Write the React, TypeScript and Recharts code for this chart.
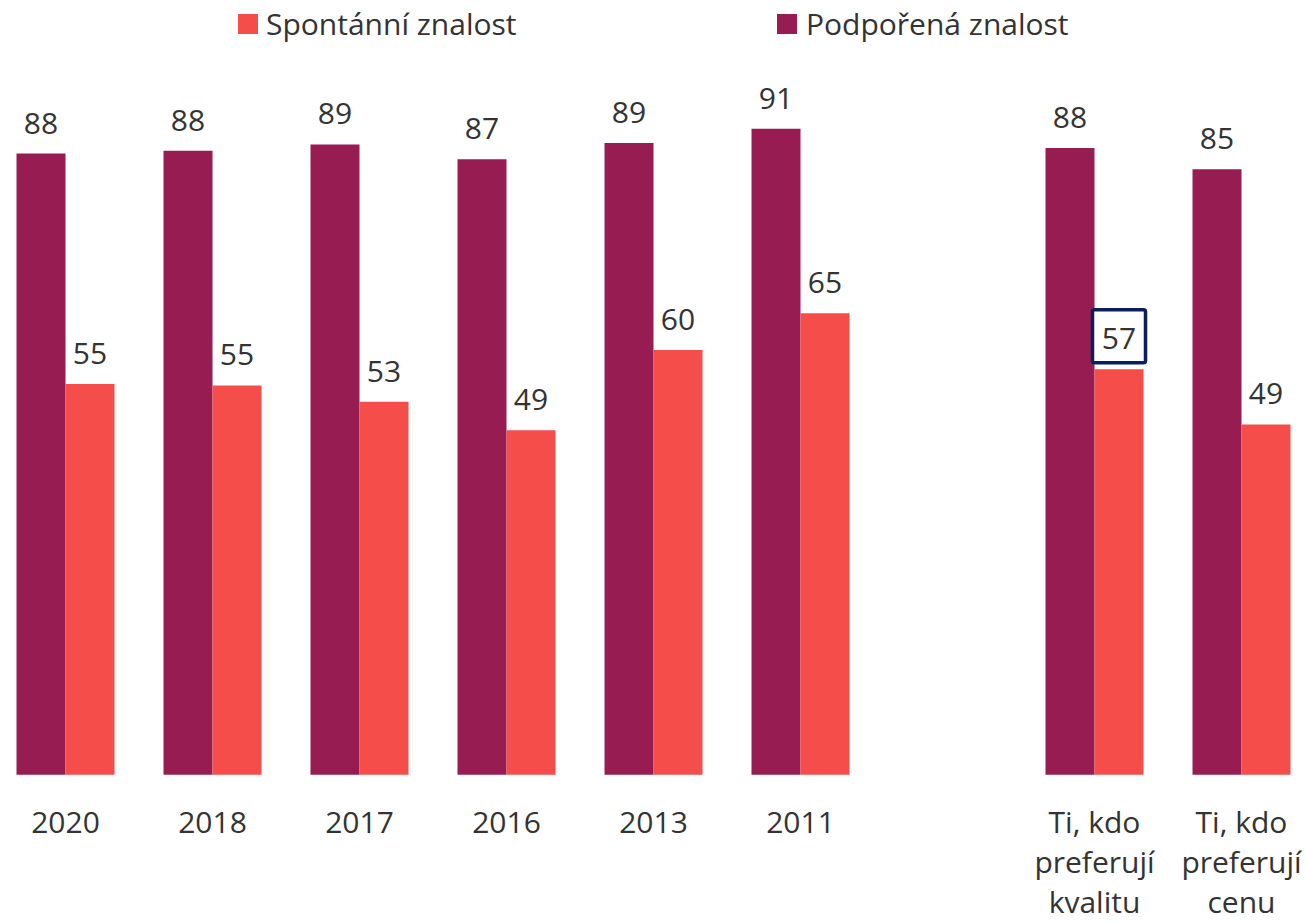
import { BarChart, Bar, XAxis, YAxis, LabelList, Legend } from "recharts";

const categories = ["2020", "2018", "2017", "2016", "2013", "2011", "", "Ti, kdo\npreferují\nkvalitu", "Ti, kdo\npreferují\ncenu"];
const podporena = [87.6, 88.0, 88.9, 86.8, 89.1, 91.1, null, 88.4, 85.4];
const spontanni = [55.1, 54.9, 52.6, 48.6, 59.9, 65.1, null, 57.2, 49.4];
const highlighted = "Ti, kdo\npreferují\nkvalitu";

const PURPLE = "#961C52";
const RED = "#F54D4A";
const TEXT = "#333333";
const FONT = "'Open Sans', sans-serif";
const FONT_SIZE = 30;

const data = categories.map((c, i) => ({ name: c, podporena: podporena[i], spontanni: spontanni[i] }));

// labels are only made for bars that have a value, so index runs over these
const redWithValue = categories.filter((_, i) => spontanni[i] != null);

const CategoryTick = ({ x, y, payload }: any) => {
  const lines = String(payload.value).split("\n");
  return (
    <text x={x} y={y + 58.5} textAnchor="middle" fill={TEXT} fontSize={FONT_SIZE} fontFamily={FONT}>
      {lines.map((l, i) => (
        <tspan key={i} x={x} dy={i === 0 ? 0 : 40}>{l}</tspan>
      ))}
    </text>
  );
};

const ValueLabel = ({ x, y, width, value, boxed }: any) => {
  if (value == null) return null;
  const cx = x + width / 2;
  return (
    <g>
      {boxed && (
        <rect x={cx - 26.5} y={y - 59.5} width={53} height={53} rx={2} fill="#fff" stroke="#0A1F5C" strokeWidth={3.5} />
      )}
      <text x={cx} y={y - 20} textAnchor="middle" fill={TEXT} fontSize={FONT_SIZE} fontFamily={FONT}>
        {Math.round(value)}
      </text>
    </g>
  );
};

const RedLabel = (props: any) => <ValueLabel {...props} boxed={redWithValue[props.index] === highlighted} />;
const PurpleLabel = (props: any) => <ValueLabel {...props} boxed={false} />;

const LegendContent = () => (
  <div style={{ position: "relative", height: 50, fontFamily: FONT, fontSize: FONT_SIZE, color: TEXT }}>
    <div style={{ position: "absolute", left: 246.5, top: 0, display: "flex", alignItems: "center", height: 47, whiteSpace: "nowrap" }}>
      <span style={{ width: 20, height: 20, background: RED, marginRight: 8 }} />
      Spontánní znalost
    </div>
    <div style={{ position: "absolute", left: 785.5, top: 0, display: "flex", alignItems: "center", height: 47, whiteSpace: "nowrap" }}>
      <span style={{ width: 20, height: 20, background: PURPLE, marginRight: 9 }} />
      Podpořená znalost
    </div>
  </div>
);

export default function App() {
  return (
    <div style={{ position: "fixed", left: 0, top: 0, width: 1305, height: 922, overflow: "hidden", background: "#fff" }}>
      <div style={{ position: "absolute", left: -8.5, top: 0 }}>
        <BarChart
          width={1323}
          height={922}
          data={data}
          margin={{ top: 65.7, right: 0, bottom: 7.3, left: 0 }}
          barCategoryGap={24.5}
          barGap={0}
        >
          <XAxis dataKey="name" height={140} tickLine={false} axisLine={false} tickSize={0} tickMargin={0} interval={0} tick={<CategoryTick />} />
          <YAxis hide domain={[0, 100]} />
          <Legend
            verticalAlign="middle"
            align="center"
            layout="horizontal"
            wrapperStyle={{ top: 0, left: 0, width: 1323, height: 50 }}
            content={<LegendContent />}
          />
          <Bar dataKey="podporena" name="Podpořená znalost" fill={PURPLE} isAnimationActive={false}>
            <LabelList dataKey="podporena" content={<PurpleLabel />} />
          </Bar>
          <Bar dataKey="spontanni" name="Spontánní znalost" fill={RED} isAnimationActive={false}>
            <LabelList dataKey="spontanni" content={<RedLabel />} />
          </Bar>
        </BarChart>
      </div>
    </div>
  );
}
